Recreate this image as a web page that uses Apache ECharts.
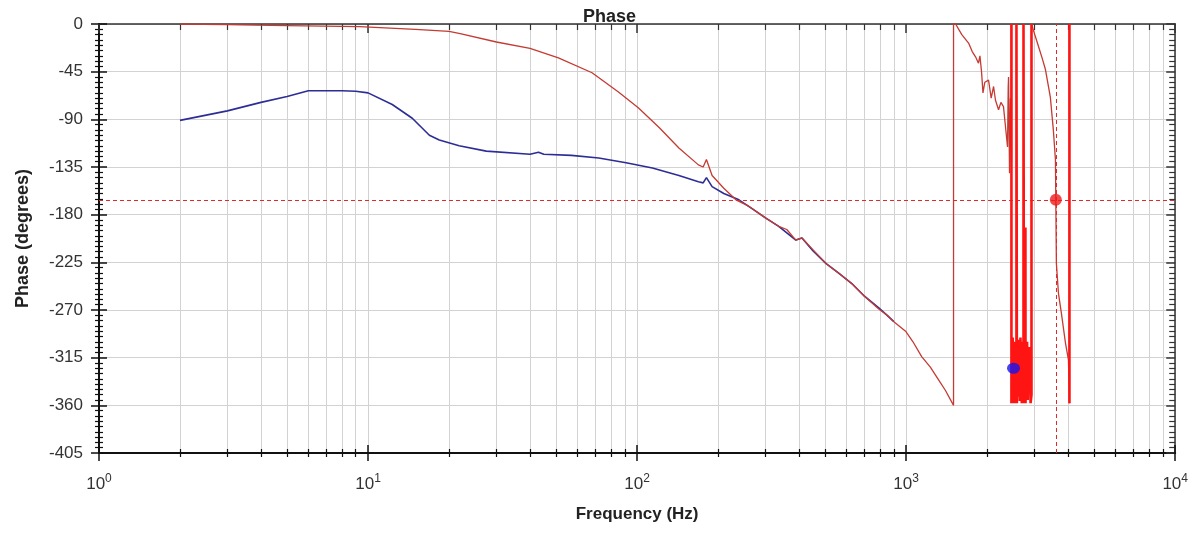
<!DOCTYPE html>
<html>
<head>
<meta charset="utf-8">
<script src="https://cdn.jsdelivr.net/npm/echarts@6/dist/echarts.min.js"></script>
<style>
  html, body { margin: 0; padding: 0; background: #ffffff; }
  #chart { width: 1191px; height: 533px; }
</style>
</head>
<body>
<div id="chart"></div>
<script>
// Open-loop phase response (degrees) against frequency (Hz)

// Reference model curve (blue)
const modelFreq  = [2, 3, 4, 5, 6, 7, 8, 9, 10, 12.3, 14.6, 16.9, 18.4, 21.8, 27.5, 40, 43, 45, 57, 72, 91, 114, 143, 169, 176, 181, 190, 210, 239, 270, 300, 336, 389, 410, 450, 503, 560, 628, 700, 791, 850, 900];
const modelPhase = [-91, -82, -74, -68.5, -63, -63, -63, -63.5, -65, -76, -89, -105, -109.5, -115, -120, -123, -121, -123, -124, -126.5, -131, -136, -143, -149, -150, -145, -153.5, -160, -166, -175, -183, -191, -204, -202, -214, -226, -235, -245, -257, -268, -275, -281];

// Measured curve (thin red), including phase wraps
const measFreq  = [2, 3, 3.8, 5, 9.3, 15, 20, 22, 30, 40, 51, 68, 85, 101, 121, 143, 169, 176, 181, 190, 210, 233, 260, 300, 336, 360, 389, 410, 450, 503, 560, 628, 700, 791, 850, 900, 995, 1060, 1142, 1230, 1320, 1400, 1500, 1500, 1527, 1610, 1706, 1760, 1811, 1857, 1880, 1906, 1930, 1960, 2024, 2070, 2113, 2148, 2205, 2250, 2300, 2340, 2381, 2395, 2402, 2422, 2440, 2462, 2462];
const measPhase = [0, -0.5, -1, -1.5, -2.5, -5, -7, -9, -17, -23, -32, -46, -64, -79, -98, -117, -133, -135, -128, -143, -155, -166, -172, -183, -191, -194, -204, -202, -213, -226, -235, -245, -257, -269, -275, -281, -290, -300, -314, -324, -336, -346, -360, 0, 0, -10, -18, -26, -31, -37, -30, -45, -65, -55, -53, -70, -59, -72, -81, -74, -78, -97, -116, -60, -50, -141, -70, -130, 0];

// Unwrapped noise band (bright red)
const noiseFreq  = [2462, 2462, 2470, 2480, 2488, 2495, 2503, 2510, 2520, 2530, 2540, 2550, 2560, 2570, 2570, 2580, 2590, 2600, 2608, 2615, 2622, 2630, 2638, 2645, 2652, 2660, 2670, 2680, 2690, 2700, 2710, 2720, 2730, 2730, 2740, 2750, 2758, 2765, 2770, 2775, 2778, 2790, 2800, 2815, 2830, 2845, 2860, 2880, 2900, 2923, 2923];
const noisePhase = [0, -358, -305, -340, -296, -350, -315, -358, -300, -345, -310, -358, -300, -340, 0, -358, -302, -345, -298, -352, -312, -340, -300, -356, -318, -296, -350, -310, -358, -325, -300, -345, -320, 0, -358, -305, -340, -298, -330, -192, -358, -320, -340, -300, -355, -315, -345, -305, -358, -350, 0];

// Second measured segment above 2.9 kHz (thin red)
const tailFreq  = [2923, 2972, 3102, 3200, 3294, 3435, 3524, 3588, 3617, 3681, 3775, 3909, 4010, 4045];
const tailPhase = [0, -6, -21, -32, -43, -69, -100, -128, -226, -254, -273, -301, -317, -358];

// Final wrap (bright red)
const wrapFreq  = [4045, 4045];
const wrapPhase = [-358, 0];

// Crossover markers and cursor lines
const cursorFreq = 3600;
const cursorPhase = -166;
const measMarker  = [3600, -166];
const modelMarker = [2506, -325];

// Axis ticks
const phaseTicks = { min: -405, max: 0, step: 45 };
const freqRange  = { min: 1, max: 10000 };

const zip = (xs, ys) => xs.map((x, i) => [x, ys[i]]);

const FONT = '"Liberation Sans", Arial, sans-serif';
const AXIS_COLOR = '#111111';
const GRID_COLOR = '#d2d2d2';

const logAxisBase = {
  type: 'log',
  logBase: 10,
  min: freqRange.min,
  max: freqRange.max,
  gridIndex: 0
};

const chart = echarts.init(document.getElementById('chart'), null, { renderer: 'canvas' });

chart.setOption({
  animation: false,
  backgroundColor: '#ffffff',
  title: {
    text: 'Phase',
    left: 578,
    top: 3,
    textStyle: { fontFamily: FONT, fontSize: 18, fontWeight: 'bold', color: '#222' }
  },
  grid: { left: 99, right: 12, top: 24, bottom: 80, containLabel: false },
  xAxis: [
    Object.assign({}, logAxisBase, {
      position: 'bottom',
      name: 'Frequency (Hz)',
      nameLocation: 'middle',
      nameGap: 53,
      nameTextStyle: { fontFamily: FONT, fontSize: 17, fontWeight: 'bold', color: '#222' },
      axisLine: { show: true, onZero: false, lineStyle: { color: AXIS_COLOR, width: 2 } },
      axisTick: { show: true, inside: false, length: 8, lineStyle: { color: AXIS_COLOR, width: 1.5 } },
      minorTick: { show: true, splitNumber: 9, length: 4, lineStyle: { color: AXIS_COLOR, width: 1.2 } },
      splitLine: { show: true, lineStyle: { color: GRID_COLOR, width: 1 } },
      minorSplitLine: { show: true, lineStyle: { color: GRID_COLOR, width: 1 } },
      axisLabel: {
        margin: 20,
        formatter: v => '{b|10}{s|' + Math.round(Math.log10(v)) + '}',
        rich: {
          b: { fontFamily: FONT, fontSize: 17, color: '#333', lineHeight: 20, verticalAlign: 'bottom' },
          s: { fontFamily: FONT, fontSize: 12, color: '#333', lineHeight: 20, verticalAlign: 'top' }
        }
      }
    }),
    Object.assign({}, logAxisBase, {
      position: 'bottom',
      axisLine: { show: false, onZero: false },
      axisTick: { show: true, inside: true, length: 8, lineStyle: { color: AXIS_COLOR, width: 1.5 } },
      minorTick: { show: true, splitNumber: 9, length: 4, lineStyle: { color: AXIS_COLOR, width: 1.2 } },
      splitLine: { show: false },
      axisLabel: { show: false }
    }),
    Object.assign({}, logAxisBase, {
      position: 'top',
      axisLine: { show: true, onZero: false, lineStyle: { color: '#333', width: 1.5 } },
      axisTick: { show: true, inside: true, length: 9, lineStyle: { color: '#333', width: 1.5 } },
      minorTick: { show: true, splitNumber: 9, length: 6, lineStyle: { color: '#333', width: 1.2 } },
      splitLine: { show: false },
      axisLabel: { show: false }
    })
  ],
  yAxis: [
    {
      type: 'value',
      position: 'left',
      min: phaseTicks.min,
      max: phaseTicks.max,
      interval: phaseTicks.step,
      name: 'Phase (degrees)',
      nameLocation: 'middle',
      nameGap: 67,
      nameTextStyle: { fontFamily: FONT, fontSize: 18, fontWeight: 'bold', color: '#222' },
      axisLine: { show: true, onZero: false, lineStyle: { color: AXIS_COLOR, width: 2 } },
      axisTick: { show: true, inside: false, length: 8, lineStyle: { color: AXIS_COLOR, width: 1.5 } },
      minorTick: { show: true, splitNumber: 9, length: 4, lineStyle: { color: AXIS_COLOR, width: 1.2 } },
      splitLine: { show: true, lineStyle: { color: GRID_COLOR, width: 1 } },
      axisLabel: { margin: 16, fontFamily: FONT, fontSize: 17, color: '#333' }
    },
    {
      type: 'value',
      position: 'left',
      min: phaseTicks.min,
      max: phaseTicks.max,
      interval: phaseTicks.step,
      axisLine: { show: false, onZero: false },
      axisTick: { show: true, inside: true, length: 8, lineStyle: { color: AXIS_COLOR, width: 1.5 } },
      minorTick: { show: true, splitNumber: 9, length: 4, lineStyle: { color: AXIS_COLOR, width: 1.2 } },
      splitLine: { show: false },
      axisLabel: { show: false }
    },
    {
      type: 'value',
      position: 'right',
      min: phaseTicks.min,
      max: phaseTicks.max,
      interval: phaseTicks.step,
      axisLine: { show: true, onZero: false, lineStyle: { color: '#333', width: 1.5 } },
      axisTick: { show: true, inside: true, length: 9, lineStyle: { color: '#333', width: 1.5 } },
      minorTick: { show: true, splitNumber: 9, length: 6, lineStyle: { color: '#333', width: 1.2 } },
      splitLine: { show: false },
      axisLabel: { show: false }
    }
  ],
  series: [
    {
      name: 'Model',
      type: 'line',
      data: zip(modelFreq, modelPhase),
      showSymbol: false,
      lineStyle: { color: '#2d2d96', width: 1.6 },
      z: 3
    },
    {
      name: 'Measured',
      type: 'line',
      data: zip(measFreq, measPhase),
      showSymbol: false,
      lineStyle: { color: '#c53a32', width: 1.3 },
      z: 4,
      markLine: {
        silent: true,
        symbol: 'none',
        label: { show: false },
        lineStyle: { color: '#e02a2a', type: [4, 3], width: 1 },
        data: [{ yAxis: cursorPhase }, { xAxis: cursorFreq }]
      }
    },
    {
      name: 'Noise',
      type: 'line',
      data: zip(noiseFreq, noisePhase),
      showSymbol: false,
      lineStyle: { color: '#ff1414', width: 2.6 },
      z: 5
    },
    {
      name: 'Tail',
      type: 'line',
      data: zip(tailFreq, tailPhase),
      showSymbol: false,
      lineStyle: { color: '#c53a32', width: 1.3 },
      z: 4
    },
    {
      name: 'Wrap',
      type: 'line',
      data: zip(wrapFreq, wrapPhase),
      showSymbol: false,
      lineStyle: { color: '#ff1414', width: 2.6 },
      z: 5
    },
    {
      name: 'Measured marker',
      type: 'scatter',
      data: [measMarker],
      symbol: 'circle',
      symbolSize: 12,
      itemStyle: { color: '#ee1c1c' },
      z: 6
    },
    {
      name: 'Model marker',
      type: 'scatter',
      data: [modelMarker],
      symbol: 'circle',
      symbolSize: [13, 11],
      itemStyle: { color: '#1414f0' },
      z: 6
    }
  ]
});
</script>
</body>
</html>
